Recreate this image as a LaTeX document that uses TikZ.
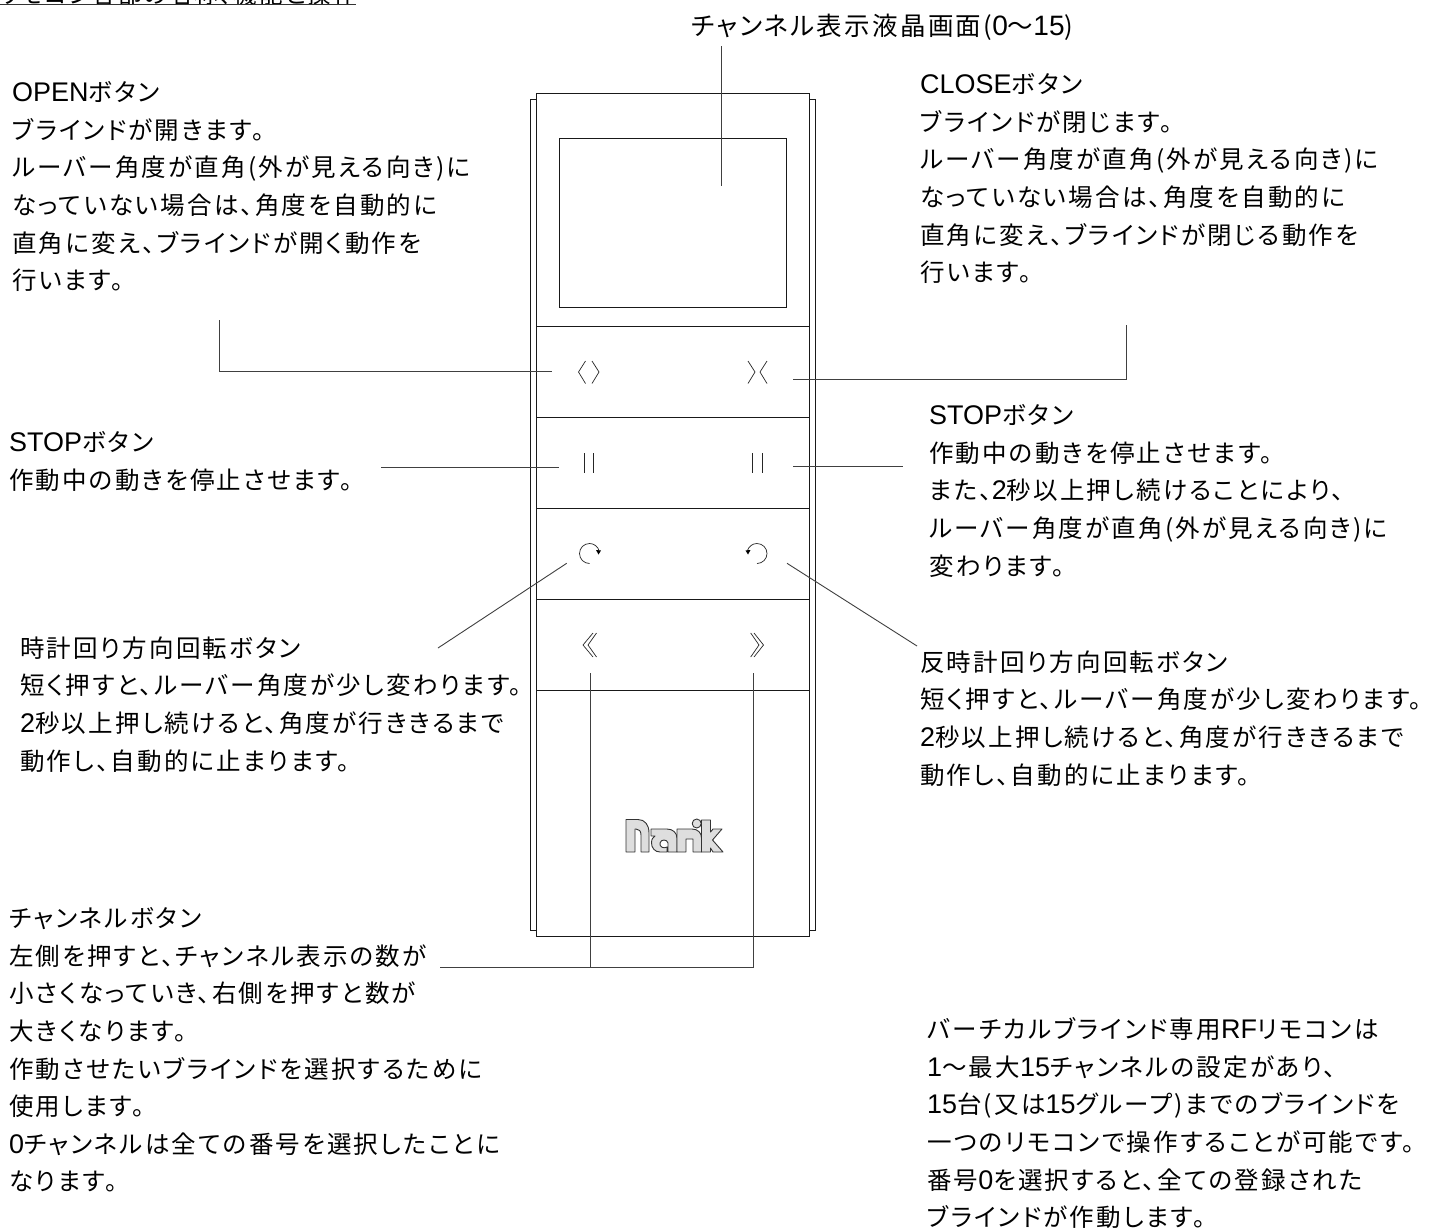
\documentclass[tikz,border=0pt]{standalone}
\usepackage{fontspec}
\setmainfont[RawFeature=+palt,LetterSpace=9]{Noto Sans CJK JP}
\newfontfamily\latf[Scale=1.1]{Liberation Sans}
\newcommand{\La}[1]{{\latf #1}}
\tikzset{
 lbl/.style={anchor=north west,inner sep=0pt,align=left,font=\fontsize{24.5}{37.6}\selectfont,execute at begin node={\rule{0pt}{17pt}}},
 dev/.style={draw=black!90,line width=0.9pt},
 lead/.style={draw=black!75,line width=0.9pt},
 sym/.style={draw=black!85,line width=0.7pt},
}
\begin{document}
\begin{tikzpicture}[x=1pt,y=-1pt]
\useasboundingbox (0,0) rectangle (1436,1232);
\fill[white] (0,0) rectangle (1436,1232);
% heading
\node[anchor=base west,inner sep=0pt,font=\fontsize{23.5}{24}\selectfont] (head) at (-1,3) {リモコン各部の名称、機能と操作};
\draw[black!80,line width=1.1pt] (0,4.7) -- (356,4.7);
% device side strips
\draw[dev] (536.5,99.5) -- (530.5,99.5) -- (530.5,930) -- (536.5,930);
\draw[dev] (809.5,99.5) -- (815.5,99.5) -- (815.5,930) -- (809.5,930);
\node[draw=black!90,line width=0.9pt,minimum width=273pt,minimum height=843pt,inner sep=0pt] (body) at (673,515) {};
\node[draw=black!90,line width=0.9pt,minimum width=227pt,minimum height=169pt,inner sep=0pt] (screen) at (673,223) {};
\foreach \yy in {326.5,417.7,508.7,599,690}
  \draw[dev] (536.5,\yy) -- (809.5,\yy);
% symbols
\draw[sym] (585.5,361) -- (578.5,372) -- (585.5,383.5);
\draw[sym] (592,361) -- (599,372) -- (592,383.5);
\draw[sym] (748,361) -- (755,372) -- (748,383.5);
\draw[sym] (767,361) -- (760,372) -- (767,383.5);
\draw[sym] (584.3,453) -- (584.3,472.5);
\draw[sym] (593.3,453) -- (593.3,472.5);
\draw[sym] (752.7,453) -- (752.7,472.5);
\draw[sym] (762.7,453) -- (762.7,472.5);
\draw[sym] (589.5,563.5) arc[start angle=90,end angle=345,radius=10];
\fill (596,550) -- (601,550.5) -- (598.5,554.5) -- cycle;
\draw[sym] (757,563.5) arc[start angle=90,end angle=-165,radius=10];
\fill (750.5,550) -- (745.5,550.5) -- (748,554.5) -- cycle;
\draw[sym] (593,633) -- (583,645) -- (593,657);
\draw[sym] (596.5,633) -- (588,645) -- (596.5,657);
\draw[sym] (750.7,633) -- (759,645) -- (750.7,657);
\draw[sym] (754,633) -- (763.5,645) -- (754,657);
% logo
\begin{scope}[draw=black!80,fill=black!13,line width=0.9pt,line join=round]
\path[draw,fill] (626,819.5) -- (638,819.5) .. controls (645,819.5) and (649,825) .. (649,833) -- (649,852) -- (641,852) -- (641,835) .. controls (641,831) and (639,829) .. (636,829) -- (635,829) -- (635,852) -- (626,852) -- cycle;
\path[draw,fill] (651,829) -- (667,829) .. controls (673,829) and (677,833) .. (677,838) -- (677,852) -- (668,852) -- (668,843) .. controls (667,839) and (661,839) .. (660,843) .. controls (659,847) and (664,849) .. (667,847) -- (667,852) -- (660,852) .. controls (655,852) and (651.5,848) .. (651.5,843) .. controls (651.5,839) and (653,837) .. (655,836) -- (651,836) -- cycle;
\path[draw,fill] (677,829) -- (692,829) .. controls (698,829) and (701.5,833) .. (701.5,838) -- (701.5,852) -- (693,852) -- (693,839) -- (686,839) -- (686,852) -- (677,852) -- cycle;
\path[draw,fill] (696.7,823.5) circle[radius=4.5];
\path[draw,fill] (701.5,820) -- (710.5,820) -- (710.5,832) -- (713,829) -- (722,829) -- (712.5,840) -- (723,852) -- (713,852) -- (710.5,848) -- (710.5,852) -- (701.5,852) -- cycle;
\end{scope}
% labels
\node[anchor=north west,inner sep=0pt,font=\fontsize{25.5}{24}\selectfont,execute at begin node={\rule{0pt}{17pt}}] (t0) at (691,14) {チャンネル表示液晶画面(\La{0}〜\La{15})};
\node[lbl] (open) at (12,81.5) {\La{OPEN}ボタン\\ブラインドが開きます。\\ルーバー角度が直角(外が見える向き)に\\なっていない場合は、角度を自動的に\\直角に変え、ブラインドが開く動作を\\行います。};
\node[lbl] (close) at (920,73.5) {\La{CLOSE}ボタン\\ブラインドが閉じます。\\ルーバー角度が直角(外が見える向き)に\\なっていない場合は、角度を自動的に\\直角に変え、ブラインドが閉じる動作を\\行います。};
\node[lbl] (stopl) at (9,431.5) {\La{STOP}ボタン\\作動中の動きを停止させます。};
\node[lbl] (stopr) at (929,404.5) {\La{STOP}ボタン\\作動中の動きを停止させます。\\また、\La{2}秒以上押し続けることにより、\\ルーバー角度が直角(外が見える向き)に\\変わります。};
\node[lbl] (cw) at (20,636.5) {時計回り方向回転ボタン\\短く押すと、ルーバー角度が少し変わります。\\\La{2}秒以上押し続けると、角度が行ききるまで\\動作し、自動的に止まります。};
\node[lbl] (ccw) at (920,650.5) {反時計回り方向回転ボタン\\短く押すと、ルーバー角度が少し変わります。\\\La{2}秒以上押し続けると、角度が行ききるまで\\動作し、自動的に止まります。};
\node[lbl] (ch) at (9,907.5) {チャンネルボタン\\左側を押すと、チャンネル表示の数が\\小さくなっていき、右側を押すと数が\\大きくなります。\\作動させたいブラインドを選択するために\\使用します。\\\La{0}チャンネルは全ての番号を選択したことに\\なります。};
\node[lbl] (rf) at (927,1017.5) {バーチカルブラインド専用\La{RF}リモコンは\\\La{1}〜最大\La{15}チャンネルの設定があり、\\\La{15}台(又は\La{15}グループ)までのブラインドを\\一つのリモコンで操作することが可能です。\\番号\La{0}を選択すると、全ての登録された\\ブラインドが作動します。};
% connectors
\coordinate (a0) at (721.7,46); \coordinate (a1) at (721.7,186);
\draw[lead] (a0) -- (a1);
\coordinate (b0) at (219,320); \coordinate (b1) at (219,371); \coordinate (b2) at (552,371);
\draw[lead] (b0) -- (b1) -- (b2);
\coordinate (c0) at (1126,325); \coordinate (c1) at (1126,379); \coordinate (c2) at (793,379);
\draw[lead] (c0) -- (c1) -- (c2);
\coordinate (d0) at (381,467.7); \coordinate (d1) at (559,467.7);
\draw[lead] (d0) -- (d1);
\coordinate (e0) at (793,466); \coordinate (e1) at (903,466);
\draw[lead] (e0) -- (e1);
\coordinate (f0) at (566.7,563.3); \coordinate (f1) at (438,648);
\draw[lead] (f0) -- (f1);
\coordinate (g0) at (787,563.3); \coordinate (g1) at (917,646);
\draw[lead] (g0) -- (g1);
\coordinate (h0) at (590,673); \coordinate (h1) at (590,967); \coordinate (i0) at (753.7,673); \coordinate (i1) at (753.7,967); \coordinate (j0) at (440,967);
\draw[lead] (h0) -- (h1);
\draw[lead] (i0) -- (i1) -- (j0);
\end{tikzpicture}
\end{document}
